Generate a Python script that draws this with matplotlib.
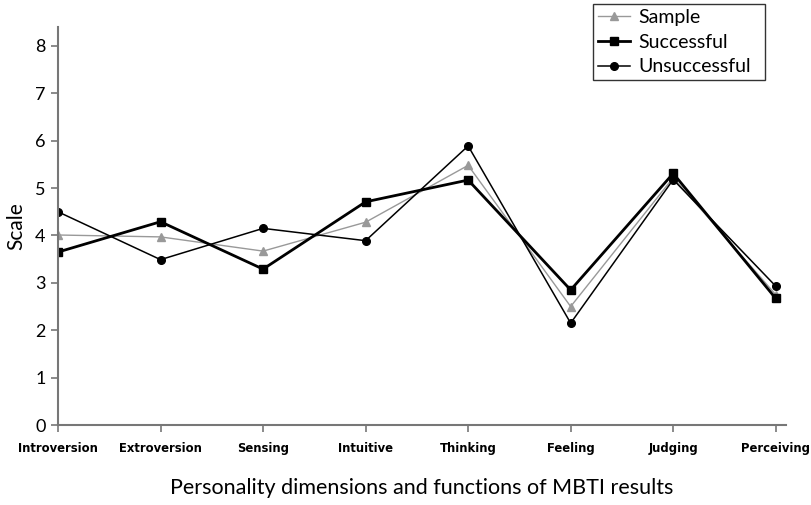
import matplotlib.pyplot as plt

# ====== data ======
categories = ["Introversion", "Extroversion", "Sensing", "Intuitive",
              "Thinking", "Feeling", "Judging", "Perceiving"]
sample       = [4.01, 3.97, 3.67, 4.28, 5.48, 2.50, 5.22, 2.75]
successful   = [3.65, 4.29, 3.29, 4.71, 5.17, 2.85, 5.31, 2.67]
unsuccessful = [4.50, 3.49, 4.15, 3.89, 5.89, 2.15, 5.18, 2.93]
y_ticks = [0, 1, 2, 3, 4, 5, 6, 7, 8]

# ====== plot ======
fig = plt.figure(figsize=(8.11, 5.05), dpi=100)
ax = fig.add_axes([58 / 811, 1 - 425 / 505, (786 - 58) / 811, (425 - 27) / 505])

x = list(range(len(categories)))
ax.plot(x, sample, color="#999999", lw=1.0, marker="^", ms=5.5, label="Sample")
ax.plot(x, successful, color="black", lw=2.0, marker="s", ms=5.5, label="Successful")
ax.plot(x, unsuccessful, color="black", lw=1.1, marker="o", ms=5.5, label="Unsuccessful")

ax.set_xlim(0, 7.1)
ax.set_ylim(0, 8.4)
ax.set_yticks(y_ticks)
ax.set_xticks(x)
ax.set_xticklabels(categories, family="DejaVu Sans", fontstretch="condensed",
                   fontweight="bold", fontsize=9.3)
for t in ax.get_yticklabels():
    t.set_family("Lato")
    t.set_fontsize(13)

for s in ["top", "right"]:
    ax.spines[s].set_visible(False)
for s in ["left", "bottom"]:
    ax.spines[s].set_color("#777777")
    ax.spines[s].set_linewidth(1.5)
ax.tick_params(axis="both", color="#777777", width=1.2, length=5, direction="out")
ax.tick_params(axis="x", pad=7)
ax.tick_params(axis="y", pad=4)

ax.set_ylabel("Scale", family="Lato", fontsize=15, labelpad=6)
ax.set_xlabel("Personality dimensions and functions of MBTI results",
              family="Lato", fontsize=15.5, labelpad=17)

# 图例：右侧留白靠 expand 撑开
leg = fig.legend(loc="upper left",
                 bbox_to_anchor=(593 / 811, 1 - 83 / 505, 172 / 811, 79 / 505),
                 mode="expand",
                 prop={"family": "Lato", "size": 14}, frameon=True, fancybox=False,
                 borderpad=0.25, labelspacing=0.4, handlelength=1.65,
                 handletextpad=0.45, borderaxespad=0)
leg.get_frame().set_edgecolor("black")
leg.get_frame().set_linewidth(1.0)

plt.savefig("out.png", dpi=100)
